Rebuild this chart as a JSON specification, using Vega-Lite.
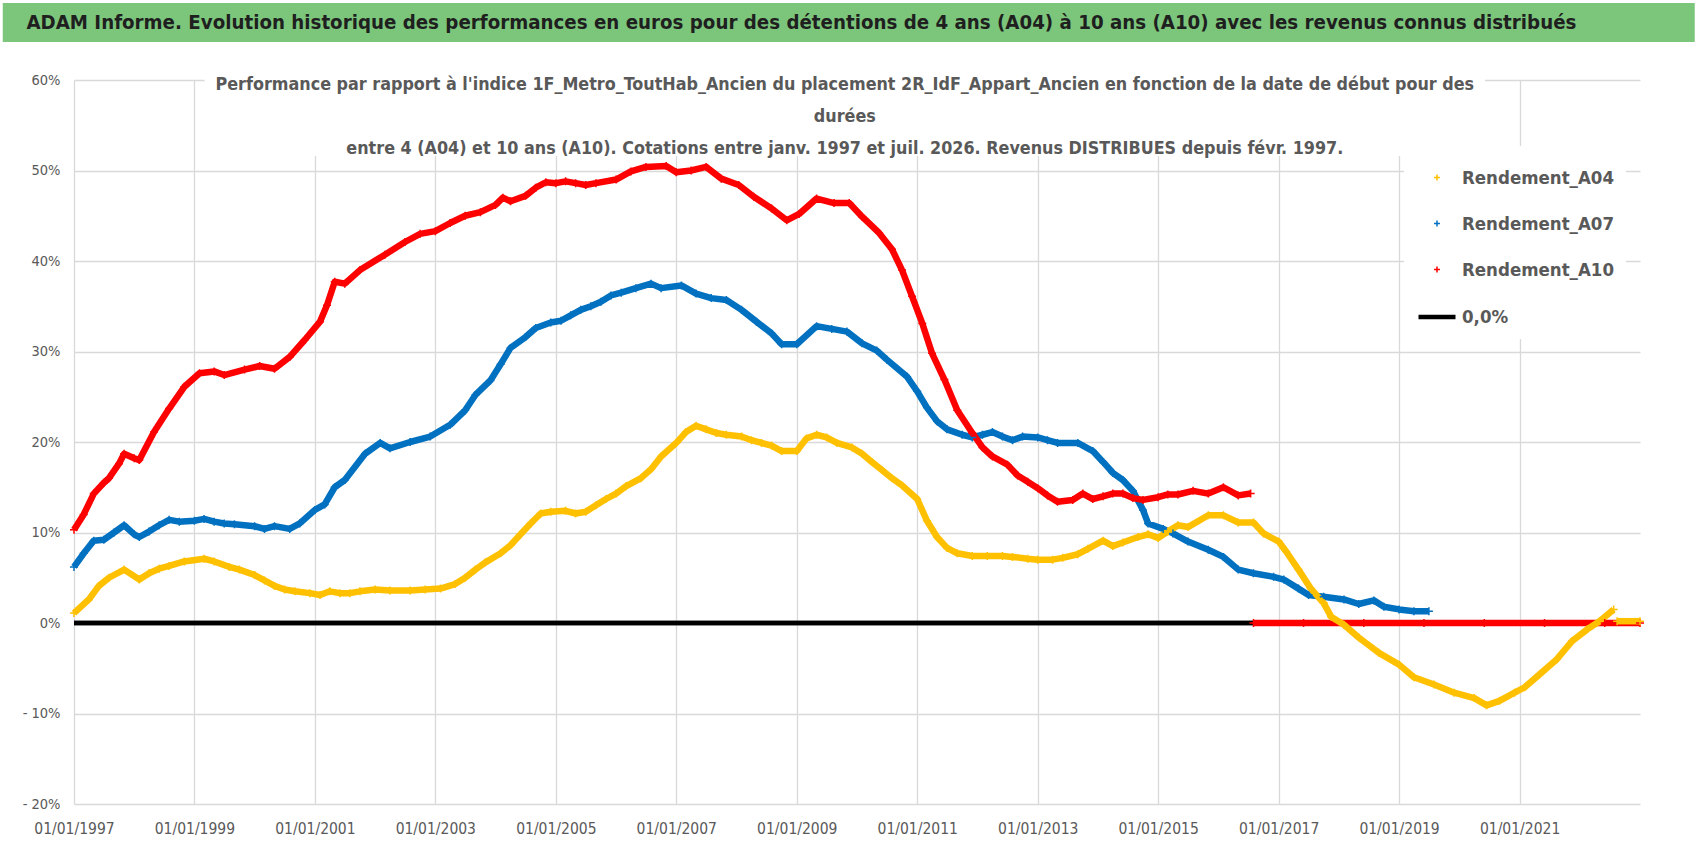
{
  "$schema": "https://vega.github.io/schema/vega-lite/v6.json",
  "width": 1566,
  "height": 724,
  "autosize": {"type": "none"},
  "padding": {"left": 74, "top": 80, "right": 58, "bottom": 52},
  "background": "white",
  "datasets": {
    "series": [
      {"d": "1997-01-01", "s": "0,0%", "g": "z", "v": 0},
      {"d": "2016-08-01", "s": "0,0%", "g": "z", "v": 0},

      {"d": "1997-01-01", "s": "Rendement_A07", "g": "a", "v": 6.2},
      {"d": "1997-03-01", "s": "Rendement_A07", "g": "a", "v": 7.7},
      {"d": "1997-05-01", "s": "Rendement_A07", "g": "a", "v": 9.1},
      {"d": "1997-07-01", "s": "Rendement_A07", "g": "a", "v": 9.2},
      {"d": "1997-09-01", "s": "Rendement_A07", "g": "a", "v": 10.0},
      {"d": "1997-11-01", "s": "Rendement_A07", "g": "a", "v": 10.8},
      {"d": "1998-01-01", "s": "Rendement_A07", "g": "a", "v": 9.8},
      {"d": "1998-02-01", "s": "Rendement_A07", "g": "a", "v": 9.5},
      {"d": "1998-04-01", "s": "Rendement_A07", "g": "a", "v": 10.1},
      {"d": "1998-06-01", "s": "Rendement_A07", "g": "a", "v": 10.8},
      {"d": "1998-08-01", "s": "Rendement_A07", "g": "a", "v": 11.4},
      {"d": "1998-10-01", "s": "Rendement_A07", "g": "a", "v": 11.2},
      {"d": "1999-01-01", "s": "Rendement_A07", "g": "a", "v": 11.3},
      {"d": "1999-03-01", "s": "Rendement_A07", "g": "a", "v": 11.5},
      {"d": "1999-05-01", "s": "Rendement_A07", "g": "a", "v": 11.2},
      {"d": "1999-07-01", "s": "Rendement_A07", "g": "a", "v": 11.0},
      {"d": "1999-09-01", "s": "Rendement_A07", "g": "a", "v": 10.9},
      {"d": "2000-01-01", "s": "Rendement_A07", "g": "a", "v": 10.7},
      {"d": "2000-03-01", "s": "Rendement_A07", "g": "a", "v": 10.4},
      {"d": "2000-05-01", "s": "Rendement_A07", "g": "a", "v": 10.7},
      {"d": "2000-08-01", "s": "Rendement_A07", "g": "a", "v": 10.4},
      {"d": "2000-10-01", "s": "Rendement_A07", "g": "a", "v": 11.0},
      {"d": "2001-01-01", "s": "Rendement_A07", "g": "a", "v": 12.5},
      {"d": "2001-03-01", "s": "Rendement_A07", "g": "a", "v": 13.1},
      {"d": "2001-05-01", "s": "Rendement_A07", "g": "a", "v": 15.0},
      {"d": "2001-07-01", "s": "Rendement_A07", "g": "a", "v": 15.8},
      {"d": "2001-11-01", "s": "Rendement_A07", "g": "a", "v": 18.7},
      {"d": "2002-02-01", "s": "Rendement_A07", "g": "a", "v": 19.9},
      {"d": "2002-04-01", "s": "Rendement_A07", "g": "a", "v": 19.3},
      {"d": "2002-08-01", "s": "Rendement_A07", "g": "a", "v": 20.0},
      {"d": "2002-12-01", "s": "Rendement_A07", "g": "a", "v": 20.6},
      {"d": "2003-04-01", "s": "Rendement_A07", "g": "a", "v": 21.9},
      {"d": "2003-07-01", "s": "Rendement_A07", "g": "a", "v": 23.5},
      {"d": "2003-09-01", "s": "Rendement_A07", "g": "a", "v": 25.2},
      {"d": "2003-12-01", "s": "Rendement_A07", "g": "a", "v": 26.8},
      {"d": "2004-02-01", "s": "Rendement_A07", "g": "a", "v": 28.6},
      {"d": "2004-04-01", "s": "Rendement_A07", "g": "a", "v": 30.4},
      {"d": "2004-07-01", "s": "Rendement_A07", "g": "a", "v": 31.6},
      {"d": "2004-09-01", "s": "Rendement_A07", "g": "a", "v": 32.6},
      {"d": "2004-12-01", "s": "Rendement_A07", "g": "a", "v": 33.2},
      {"d": "2005-02-01", "s": "Rendement_A07", "g": "a", "v": 33.4},
      {"d": "2005-04-01", "s": "Rendement_A07", "g": "a", "v": 34.0},
      {"d": "2005-06-01", "s": "Rendement_A07", "g": "a", "v": 34.6},
      {"d": "2005-08-01", "s": "Rendement_A07", "g": "a", "v": 35.0},
      {"d": "2005-10-01", "s": "Rendement_A07", "g": "a", "v": 35.5},
      {"d": "2005-12-01", "s": "Rendement_A07", "g": "a", "v": 36.2},
      {"d": "2006-02-01", "s": "Rendement_A07", "g": "a", "v": 36.5},
      {"d": "2006-05-01", "s": "Rendement_A07", "g": "a", "v": 37.0},
      {"d": "2006-08-01", "s": "Rendement_A07", "g": "a", "v": 37.5},
      {"d": "2006-10-01", "s": "Rendement_A07", "g": "a", "v": 37.0},
      {"d": "2007-02-01", "s": "Rendement_A07", "g": "a", "v": 37.3},
      {"d": "2007-05-01", "s": "Rendement_A07", "g": "a", "v": 36.4},
      {"d": "2007-08-01", "s": "Rendement_A07", "g": "a", "v": 35.9},
      {"d": "2007-11-01", "s": "Rendement_A07", "g": "a", "v": 35.7},
      {"d": "2008-02-01", "s": "Rendement_A07", "g": "a", "v": 34.6},
      {"d": "2008-05-01", "s": "Rendement_A07", "g": "a", "v": 33.3},
      {"d": "2008-08-01", "s": "Rendement_A07", "g": "a", "v": 32.0},
      {"d": "2008-10-01", "s": "Rendement_A07", "g": "a", "v": 30.8},
      {"d": "2009-01-01", "s": "Rendement_A07", "g": "a", "v": 30.8},
      {"d": "2009-05-01", "s": "Rendement_A07", "g": "a", "v": 32.8},
      {"d": "2009-08-01", "s": "Rendement_A07", "g": "a", "v": 32.5},
      {"d": "2009-11-01", "s": "Rendement_A07", "g": "a", "v": 32.2},
      {"d": "2010-02-01", "s": "Rendement_A07", "g": "a", "v": 30.9},
      {"d": "2010-05-01", "s": "Rendement_A07", "g": "a", "v": 30.1},
      {"d": "2010-07-01", "s": "Rendement_A07", "g": "a", "v": 29.1},
      {"d": "2010-11-01", "s": "Rendement_A07", "g": "a", "v": 27.2},
      {"d": "2011-01-01", "s": "Rendement_A07", "g": "a", "v": 25.6},
      {"d": "2011-03-01", "s": "Rendement_A07", "g": "a", "v": 23.8},
      {"d": "2011-05-01", "s": "Rendement_A07", "g": "a", "v": 22.3},
      {"d": "2011-07-01", "s": "Rendement_A07", "g": "a", "v": 21.4},
      {"d": "2011-10-01", "s": "Rendement_A07", "g": "a", "v": 20.8},
      {"d": "2011-12-01", "s": "Rendement_A07", "g": "a", "v": 20.5},
      {"d": "2012-02-01", "s": "Rendement_A07", "g": "a", "v": 20.8},
      {"d": "2012-04-01", "s": "Rendement_A07", "g": "a", "v": 21.1},
      {"d": "2012-06-01", "s": "Rendement_A07", "g": "a", "v": 20.6},
      {"d": "2012-08-01", "s": "Rendement_A07", "g": "a", "v": 20.2},
      {"d": "2012-10-01", "s": "Rendement_A07", "g": "a", "v": 20.6},
      {"d": "2013-01-01", "s": "Rendement_A07", "g": "a", "v": 20.5},
      {"d": "2013-03-01", "s": "Rendement_A07", "g": "a", "v": 20.2},
      {"d": "2013-05-01", "s": "Rendement_A07", "g": "a", "v": 19.9},
      {"d": "2013-09-01", "s": "Rendement_A07", "g": "a", "v": 19.9},
      {"d": "2013-12-01", "s": "Rendement_A07", "g": "a", "v": 19.0},
      {"d": "2014-02-01", "s": "Rendement_A07", "g": "a", "v": 17.8},
      {"d": "2014-04-01", "s": "Rendement_A07", "g": "a", "v": 16.6},
      {"d": "2014-06-01", "s": "Rendement_A07", "g": "a", "v": 15.8},
      {"d": "2014-08-01", "s": "Rendement_A07", "g": "a", "v": 14.6},
      {"d": "2014-10-01", "s": "Rendement_A07", "g": "a", "v": 12.5},
      {"d": "2014-11-01", "s": "Rendement_A07", "g": "a", "v": 11.0},
      {"d": "2015-02-01", "s": "Rendement_A07", "g": "a", "v": 10.4},
      {"d": "2015-04-01", "s": "Rendement_A07", "g": "a", "v": 9.9},
      {"d": "2015-07-01", "s": "Rendement_A07", "g": "a", "v": 9.0},
      {"d": "2015-11-01", "s": "Rendement_A07", "g": "a", "v": 8.1},
      {"d": "2016-02-01", "s": "Rendement_A07", "g": "a", "v": 7.3},
      {"d": "2016-05-01", "s": "Rendement_A07", "g": "a", "v": 5.9},
      {"d": "2016-08-01", "s": "Rendement_A07", "g": "a", "v": 5.5},
      {"d": "2016-12-01", "s": "Rendement_A07", "g": "a", "v": 5.1},
      {"d": "2017-02-01", "s": "Rendement_A07", "g": "a", "v": 4.8},
      {"d": "2017-05-01", "s": "Rendement_A07", "g": "a", "v": 3.8},
      {"d": "2017-07-01", "s": "Rendement_A07", "g": "a", "v": 3.1},
      {"d": "2017-10-01", "s": "Rendement_A07", "g": "a", "v": 2.9},
      {"d": "2018-02-01", "s": "Rendement_A07", "g": "a", "v": 2.6},
      {"d": "2018-05-01", "s": "Rendement_A07", "g": "a", "v": 2.1},
      {"d": "2018-08-01", "s": "Rendement_A07", "g": "a", "v": 2.5},
      {"d": "2018-10-01", "s": "Rendement_A07", "g": "a", "v": 1.8},
      {"d": "2019-01-01", "s": "Rendement_A07", "g": "a", "v": 1.5},
      {"d": "2019-04-01", "s": "Rendement_A07", "g": "a", "v": 1.3},
      {"d": "2019-07-01", "s": "Rendement_A07", "g": "a", "v": 1.3},

      {"d": "1997-01-01", "s": "Rendement_A10", "g": "a", "v": 10.3},
      {"d": "1997-03-01", "s": "Rendement_A10", "g": "a", "v": 12.0},
      {"d": "1997-05-01", "s": "Rendement_A10", "g": "a", "v": 14.3},
      {"d": "1997-07-01", "s": "Rendement_A10", "g": "a", "v": 15.5},
      {"d": "1997-08-01", "s": "Rendement_A10", "g": "a", "v": 16.0},
      {"d": "1997-10-01", "s": "Rendement_A10", "g": "a", "v": 17.6},
      {"d": "1997-11-01", "s": "Rendement_A10", "g": "a", "v": 18.7},
      {"d": "1998-01-01", "s": "Rendement_A10", "g": "a", "v": 18.2},
      {"d": "1998-02-01", "s": "Rendement_A10", "g": "a", "v": 18.0},
      {"d": "1998-05-01", "s": "Rendement_A10", "g": "a", "v": 21.1},
      {"d": "1998-08-01", "s": "Rendement_A10", "g": "a", "v": 23.7},
      {"d": "1998-11-01", "s": "Rendement_A10", "g": "a", "v": 26.1},
      {"d": "1999-02-01", "s": "Rendement_A10", "g": "a", "v": 27.6},
      {"d": "1999-05-01", "s": "Rendement_A10", "g": "a", "v": 27.8},
      {"d": "1999-07-01", "s": "Rendement_A10", "g": "a", "v": 27.4},
      {"d": "1999-11-01", "s": "Rendement_A10", "g": "a", "v": 28.0},
      {"d": "2000-02-01", "s": "Rendement_A10", "g": "a", "v": 28.4},
      {"d": "2000-05-01", "s": "Rendement_A10", "g": "a", "v": 28.1},
      {"d": "2000-08-01", "s": "Rendement_A10", "g": "a", "v": 29.4},
      {"d": "2000-11-01", "s": "Rendement_A10", "g": "a", "v": 31.3},
      {"d": "2001-02-01", "s": "Rendement_A10", "g": "a", "v": 33.3},
      {"d": "2001-03-15", "s": "Rendement_A10", "g": "a", "v": 35.1},
      {"d": "2001-05-01", "s": "Rendement_A10", "g": "a", "v": 37.7},
      {"d": "2001-07-01", "s": "Rendement_A10", "g": "a", "v": 37.5},
      {"d": "2001-10-01", "s": "Rendement_A10", "g": "a", "v": 39.0},
      {"d": "2002-03-01", "s": "Rendement_A10", "g": "a", "v": 40.7},
      {"d": "2002-07-01", "s": "Rendement_A10", "g": "a", "v": 42.1},
      {"d": "2002-10-01", "s": "Rendement_A10", "g": "a", "v": 43.0},
      {"d": "2003-01-01", "s": "Rendement_A10", "g": "a", "v": 43.3},
      {"d": "2003-04-01", "s": "Rendement_A10", "g": "a", "v": 44.2},
      {"d": "2003-07-01", "s": "Rendement_A10", "g": "a", "v": 45.0},
      {"d": "2003-10-01", "s": "Rendement_A10", "g": "a", "v": 45.4},
      {"d": "2004-01-01", "s": "Rendement_A10", "g": "a", "v": 46.2},
      {"d": "2004-02-15", "s": "Rendement_A10", "g": "a", "v": 47.0},
      {"d": "2004-04-01", "s": "Rendement_A10", "g": "a", "v": 46.6},
      {"d": "2004-07-01", "s": "Rendement_A10", "g": "a", "v": 47.2},
      {"d": "2004-09-01", "s": "Rendement_A10", "g": "a", "v": 48.1},
      {"d": "2004-11-01", "s": "Rendement_A10", "g": "a", "v": 48.7},
      {"d": "2005-01-01", "s": "Rendement_A10", "g": "a", "v": 48.6},
      {"d": "2005-03-01", "s": "Rendement_A10", "g": "a", "v": 48.8},
      {"d": "2005-05-01", "s": "Rendement_A10", "g": "a", "v": 48.6},
      {"d": "2005-07-01", "s": "Rendement_A10", "g": "a", "v": 48.4},
      {"d": "2005-09-01", "s": "Rendement_A10", "g": "a", "v": 48.6},
      {"d": "2006-01-01", "s": "Rendement_A10", "g": "a", "v": 49.0},
      {"d": "2006-04-01", "s": "Rendement_A10", "g": "a", "v": 49.9},
      {"d": "2006-07-01", "s": "Rendement_A10", "g": "a", "v": 50.4},
      {"d": "2006-11-01", "s": "Rendement_A10", "g": "a", "v": 50.5},
      {"d": "2007-01-01", "s": "Rendement_A10", "g": "a", "v": 49.8},
      {"d": "2007-04-01", "s": "Rendement_A10", "g": "a", "v": 50.0},
      {"d": "2007-07-01", "s": "Rendement_A10", "g": "a", "v": 50.4},
      {"d": "2007-10-01", "s": "Rendement_A10", "g": "a", "v": 49.1},
      {"d": "2008-01-15", "s": "Rendement_A10", "g": "a", "v": 48.4},
      {"d": "2008-04-15", "s": "Rendement_A10", "g": "a", "v": 47.1},
      {"d": "2008-08-01", "s": "Rendement_A10", "g": "a", "v": 45.8},
      {"d": "2008-11-01", "s": "Rendement_A10", "g": "a", "v": 44.5},
      {"d": "2009-01-15", "s": "Rendement_A10", "g": "a", "v": 45.2},
      {"d": "2009-05-01", "s": "Rendement_A10", "g": "a", "v": 46.9},
      {"d": "2009-08-15", "s": "Rendement_A10", "g": "a", "v": 46.4},
      {"d": "2009-11-15", "s": "Rendement_A10", "g": "a", "v": 46.4},
      {"d": "2010-02-01", "s": "Rendement_A10", "g": "a", "v": 44.9},
      {"d": "2010-05-15", "s": "Rendement_A10", "g": "a", "v": 43.1},
      {"d": "2010-08-01", "s": "Rendement_A10", "g": "a", "v": 41.3},
      {"d": "2010-10-01", "s": "Rendement_A10", "g": "a", "v": 39.0},
      {"d": "2010-12-01", "s": "Rendement_A10", "g": "a", "v": 36.1},
      {"d": "2011-02-01", "s": "Rendement_A10", "g": "a", "v": 33.1},
      {"d": "2011-04-01", "s": "Rendement_A10", "g": "a", "v": 29.8},
      {"d": "2011-06-15", "s": "Rendement_A10", "g": "a", "v": 26.9},
      {"d": "2011-09-01", "s": "Rendement_A10", "g": "a", "v": 23.5},
      {"d": "2011-12-01", "s": "Rendement_A10", "g": "a", "v": 21.0},
      {"d": "2012-02-01", "s": "Rendement_A10", "g": "a", "v": 19.4},
      {"d": "2012-04-01", "s": "Rendement_A10", "g": "a", "v": 18.4},
      {"d": "2012-07-01", "s": "Rendement_A10", "g": "a", "v": 17.5},
      {"d": "2012-09-01", "s": "Rendement_A10", "g": "a", "v": 16.3},
      {"d": "2012-11-01", "s": "Rendement_A10", "g": "a", "v": 15.6},
      {"d": "2013-01-01", "s": "Rendement_A10", "g": "a", "v": 14.9},
      {"d": "2013-03-01", "s": "Rendement_A10", "g": "a", "v": 14.1},
      {"d": "2013-05-01", "s": "Rendement_A10", "g": "a", "v": 13.4},
      {"d": "2013-08-01", "s": "Rendement_A10", "g": "a", "v": 13.6},
      {"d": "2013-10-01", "s": "Rendement_A10", "g": "a", "v": 14.3},
      {"d": "2013-12-01", "s": "Rendement_A10", "g": "a", "v": 13.7},
      {"d": "2014-02-01", "s": "Rendement_A10", "g": "a", "v": 14.0},
      {"d": "2014-04-01", "s": "Rendement_A10", "g": "a", "v": 14.3},
      {"d": "2014-06-01", "s": "Rendement_A10", "g": "a", "v": 14.3},
      {"d": "2014-08-01", "s": "Rendement_A10", "g": "a", "v": 13.8},
      {"d": "2014-10-01", "s": "Rendement_A10", "g": "a", "v": 13.6},
      {"d": "2015-01-01", "s": "Rendement_A10", "g": "a", "v": 13.9},
      {"d": "2015-03-01", "s": "Rendement_A10", "g": "a", "v": 14.2},
      {"d": "2015-05-01", "s": "Rendement_A10", "g": "a", "v": 14.2},
      {"d": "2015-08-01", "s": "Rendement_A10", "g": "a", "v": 14.6},
      {"d": "2015-11-01", "s": "Rendement_A10", "g": "a", "v": 14.3},
      {"d": "2016-02-01", "s": "Rendement_A10", "g": "a", "v": 15.0},
      {"d": "2016-05-01", "s": "Rendement_A10", "g": "a", "v": 14.1},
      {"d": "2016-07-15", "s": "Rendement_A10", "g": "a", "v": 14.3},
      {"d": "2016-08-01", "s": "Rendement_A10", "g": "z", "v": 0},
      {"d": "2017-06-01", "s": "Rendement_A10", "g": "z", "v": 0},
      {"d": "2018-06-01", "s": "Rendement_A10", "g": "z", "v": 0},
      {"d": "2019-06-01", "s": "Rendement_A10", "g": "z", "v": 0},
      {"d": "2020-06-01", "s": "Rendement_A10", "g": "z", "v": 0},
      {"d": "2021-06-01", "s": "Rendement_A10", "g": "z", "v": 0},
      {"d": "2022-06-01", "s": "Rendement_A10", "g": "z", "v": 0},
      {"d": "2023-01-01", "s": "Rendement_A10", "g": "z", "v": 0},

      {"d": "1997-01-01", "s": "Rendement_A04", "g": "a", "v": 1.1},
      {"d": "1997-04-01", "s": "Rendement_A04", "g": "a", "v": 2.6},
      {"d": "1997-06-01", "s": "Rendement_A04", "g": "a", "v": 4.1},
      {"d": "1997-08-01", "s": "Rendement_A04", "g": "a", "v": 5.0},
      {"d": "1997-11-01", "s": "Rendement_A04", "g": "a", "v": 5.9},
      {"d": "1998-02-01", "s": "Rendement_A04", "g": "a", "v": 4.8},
      {"d": "1998-04-01", "s": "Rendement_A04", "g": "a", "v": 5.5},
      {"d": "1998-06-01", "s": "Rendement_A04", "g": "a", "v": 6.0},
      {"d": "1998-08-01", "s": "Rendement_A04", "g": "a", "v": 6.3},
      {"d": "1998-11-01", "s": "Rendement_A04", "g": "a", "v": 6.8},
      {"d": "1999-03-01", "s": "Rendement_A04", "g": "a", "v": 7.1},
      {"d": "1999-05-01", "s": "Rendement_A04", "g": "a", "v": 6.8},
      {"d": "1999-08-01", "s": "Rendement_A04", "g": "a", "v": 6.2},
      {"d": "1999-10-01", "s": "Rendement_A04", "g": "a", "v": 5.9},
      {"d": "2000-01-01", "s": "Rendement_A04", "g": "a", "v": 5.3},
      {"d": "2000-03-01", "s": "Rendement_A04", "g": "a", "v": 4.7},
      {"d": "2000-05-01", "s": "Rendement_A04", "g": "a", "v": 4.1},
      {"d": "2000-07-01", "s": "Rendement_A04", "g": "a", "v": 3.7},
      {"d": "2000-09-01", "s": "Rendement_A04", "g": "a", "v": 3.5},
      {"d": "2000-12-01", "s": "Rendement_A04", "g": "a", "v": 3.3},
      {"d": "2001-02-01", "s": "Rendement_A04", "g": "a", "v": 3.1},
      {"d": "2001-04-01", "s": "Rendement_A04", "g": "a", "v": 3.5},
      {"d": "2001-06-01", "s": "Rendement_A04", "g": "a", "v": 3.3},
      {"d": "2001-08-01", "s": "Rendement_A04", "g": "a", "v": 3.3},
      {"d": "2001-10-01", "s": "Rendement_A04", "g": "a", "v": 3.5},
      {"d": "2002-01-01", "s": "Rendement_A04", "g": "a", "v": 3.7},
      {"d": "2002-04-01", "s": "Rendement_A04", "g": "a", "v": 3.6},
      {"d": "2002-08-01", "s": "Rendement_A04", "g": "a", "v": 3.6},
      {"d": "2002-11-01", "s": "Rendement_A04", "g": "a", "v": 3.7},
      {"d": "2003-02-01", "s": "Rendement_A04", "g": "a", "v": 3.8},
      {"d": "2003-05-01", "s": "Rendement_A04", "g": "a", "v": 4.3},
      {"d": "2003-07-01", "s": "Rendement_A04", "g": "a", "v": 5.0},
      {"d": "2003-09-01", "s": "Rendement_A04", "g": "a", "v": 5.9},
      {"d": "2003-11-01", "s": "Rendement_A04", "g": "a", "v": 6.7},
      {"d": "2004-02-01", "s": "Rendement_A04", "g": "a", "v": 7.7},
      {"d": "2004-04-01", "s": "Rendement_A04", "g": "a", "v": 8.6},
      {"d": "2004-06-01", "s": "Rendement_A04", "g": "a", "v": 9.8},
      {"d": "2004-08-01", "s": "Rendement_A04", "g": "a", "v": 11.0},
      {"d": "2004-10-01", "s": "Rendement_A04", "g": "a", "v": 12.1},
      {"d": "2004-12-01", "s": "Rendement_A04", "g": "a", "v": 12.3},
      {"d": "2005-03-01", "s": "Rendement_A04", "g": "a", "v": 12.4},
      {"d": "2005-05-01", "s": "Rendement_A04", "g": "a", "v": 12.1},
      {"d": "2005-07-01", "s": "Rendement_A04", "g": "a", "v": 12.3},
      {"d": "2005-09-01", "s": "Rendement_A04", "g": "a", "v": 13.0},
      {"d": "2005-11-01", "s": "Rendement_A04", "g": "a", "v": 13.7},
      {"d": "2006-01-01", "s": "Rendement_A04", "g": "a", "v": 14.3},
      {"d": "2006-03-01", "s": "Rendement_A04", "g": "a", "v": 15.1},
      {"d": "2006-06-01", "s": "Rendement_A04", "g": "a", "v": 16.0},
      {"d": "2006-08-01", "s": "Rendement_A04", "g": "a", "v": 17.0},
      {"d": "2006-10-01", "s": "Rendement_A04", "g": "a", "v": 18.4},
      {"d": "2007-01-01", "s": "Rendement_A04", "g": "a", "v": 19.9},
      {"d": "2007-03-01", "s": "Rendement_A04", "g": "a", "v": 21.1},
      {"d": "2007-05-01", "s": "Rendement_A04", "g": "a", "v": 21.8},
      {"d": "2007-07-01", "s": "Rendement_A04", "g": "a", "v": 21.4},
      {"d": "2007-09-01", "s": "Rendement_A04", "g": "a", "v": 21.0},
      {"d": "2007-11-01", "s": "Rendement_A04", "g": "a", "v": 20.8},
      {"d": "2008-02-01", "s": "Rendement_A04", "g": "a", "v": 20.6},
      {"d": "2008-04-01", "s": "Rendement_A04", "g": "a", "v": 20.2},
      {"d": "2008-06-01", "s": "Rendement_A04", "g": "a", "v": 19.9},
      {"d": "2008-08-01", "s": "Rendement_A04", "g": "a", "v": 19.6},
      {"d": "2008-10-01", "s": "Rendement_A04", "g": "a", "v": 19.0},
      {"d": "2009-01-01", "s": "Rendement_A04", "g": "a", "v": 19.0},
      {"d": "2009-03-01", "s": "Rendement_A04", "g": "a", "v": 20.4},
      {"d": "2009-05-01", "s": "Rendement_A04", "g": "a", "v": 20.8},
      {"d": "2009-07-01", "s": "Rendement_A04", "g": "a", "v": 20.5},
      {"d": "2009-09-01", "s": "Rendement_A04", "g": "a", "v": 19.9},
      {"d": "2009-12-01", "s": "Rendement_A04", "g": "a", "v": 19.4},
      {"d": "2010-02-01", "s": "Rendement_A04", "g": "a", "v": 18.7},
      {"d": "2010-04-01", "s": "Rendement_A04", "g": "a", "v": 17.8},
      {"d": "2010-06-01", "s": "Rendement_A04", "g": "a", "v": 16.9},
      {"d": "2010-08-01", "s": "Rendement_A04", "g": "a", "v": 16.0},
      {"d": "2010-10-01", "s": "Rendement_A04", "g": "a", "v": 15.2},
      {"d": "2011-01-01", "s": "Rendement_A04", "g": "a", "v": 13.7},
      {"d": "2011-03-01", "s": "Rendement_A04", "g": "a", "v": 11.3},
      {"d": "2011-05-01", "s": "Rendement_A04", "g": "a", "v": 9.5},
      {"d": "2011-07-01", "s": "Rendement_A04", "g": "a", "v": 8.3},
      {"d": "2011-09-01", "s": "Rendement_A04", "g": "a", "v": 7.7},
      {"d": "2011-12-01", "s": "Rendement_A04", "g": "a", "v": 7.4},
      {"d": "2012-03-01", "s": "Rendement_A04", "g": "a", "v": 7.4},
      {"d": "2012-06-01", "s": "Rendement_A04", "g": "a", "v": 7.4},
      {"d": "2012-08-01", "s": "Rendement_A04", "g": "a", "v": 7.3},
      {"d": "2012-11-01", "s": "Rendement_A04", "g": "a", "v": 7.1},
      {"d": "2013-01-01", "s": "Rendement_A04", "g": "a", "v": 7.0},
      {"d": "2013-04-01", "s": "Rendement_A04", "g": "a", "v": 7.0},
      {"d": "2013-06-01", "s": "Rendement_A04", "g": "a", "v": 7.2},
      {"d": "2013-09-01", "s": "Rendement_A04", "g": "a", "v": 7.6},
      {"d": "2013-11-01", "s": "Rendement_A04", "g": "a", "v": 8.2},
      {"d": "2014-02-01", "s": "Rendement_A04", "g": "a", "v": 9.1},
      {"d": "2014-04-01", "s": "Rendement_A04", "g": "a", "v": 8.5},
      {"d": "2014-06-01", "s": "Rendement_A04", "g": "a", "v": 8.9},
      {"d": "2014-09-01", "s": "Rendement_A04", "g": "a", "v": 9.5},
      {"d": "2014-11-01", "s": "Rendement_A04", "g": "a", "v": 9.8},
      {"d": "2015-01-01", "s": "Rendement_A04", "g": "a", "v": 9.4},
      {"d": "2015-03-01", "s": "Rendement_A04", "g": "a", "v": 10.1},
      {"d": "2015-05-01", "s": "Rendement_A04", "g": "a", "v": 10.8},
      {"d": "2015-07-01", "s": "Rendement_A04", "g": "a", "v": 10.6},
      {"d": "2015-11-01", "s": "Rendement_A04", "g": "a", "v": 11.9},
      {"d": "2016-02-01", "s": "Rendement_A04", "g": "a", "v": 11.9},
      {"d": "2016-05-01", "s": "Rendement_A04", "g": "a", "v": 11.1},
      {"d": "2016-08-01", "s": "Rendement_A04", "g": "a", "v": 11.1},
      {"d": "2016-10-01", "s": "Rendement_A04", "g": "a", "v": 9.9},
      {"d": "2017-01-01", "s": "Rendement_A04", "g": "a", "v": 9.0},
      {"d": "2017-02-15", "s": "Rendement_A04", "g": "a", "v": 7.9},
      {"d": "2017-05-01", "s": "Rendement_A04", "g": "a", "v": 5.9},
      {"d": "2017-07-15", "s": "Rendement_A04", "g": "a", "v": 3.8},
      {"d": "2017-10-01", "s": "Rendement_A04", "g": "a", "v": 2.2},
      {"d": "2017-11-15", "s": "Rendement_A04", "g": "a", "v": 0.7},
      {"d": "2018-02-01", "s": "Rendement_A04", "g": "a", "v": -0.2},
      {"d": "2018-05-01", "s": "Rendement_A04", "g": "a", "v": -1.6},
      {"d": "2018-09-01", "s": "Rendement_A04", "g": "a", "v": -3.3},
      {"d": "2019-01-01", "s": "Rendement_A04", "g": "a", "v": -4.6},
      {"d": "2019-04-01", "s": "Rendement_A04", "g": "a", "v": -6.0},
      {"d": "2019-08-01", "s": "Rendement_A04", "g": "a", "v": -6.8},
      {"d": "2019-12-01", "s": "Rendement_A04", "g": "a", "v": -7.7},
      {"d": "2020-04-01", "s": "Rendement_A04", "g": "a", "v": -8.3},
      {"d": "2020-06-15", "s": "Rendement_A04", "g": "a", "v": -9.1},
      {"d": "2020-09-01", "s": "Rendement_A04", "g": "a", "v": -8.6},
      {"d": "2020-12-01", "s": "Rendement_A04", "g": "a", "v": -7.7},
      {"d": "2021-02-01", "s": "Rendement_A04", "g": "a", "v": -7.1},
      {"d": "2021-05-01", "s": "Rendement_A04", "g": "a", "v": -5.7},
      {"d": "2021-08-15", "s": "Rendement_A04", "g": "a", "v": -4.0},
      {"d": "2021-11-15", "s": "Rendement_A04", "g": "a", "v": -2.0},
      {"d": "2022-02-15", "s": "Rendement_A04", "g": "a", "v": -0.7},
      {"d": "2022-05-01", "s": "Rendement_A04", "g": "a", "v": 0.2},
      {"d": "2022-07-25", "s": "Rendement_A04", "g": "a", "v": 1.5},
      {"d": "2022-08-15", "s": "Rendement_A04", "g": "z", "v": 0.2},
      {"d": "2023-01-01", "s": "Rendement_A04", "g": "z", "v": 0.2}
    ],
    "banner": [
      {"t": "ADAM Informe. Evolution historique des performances en euros pour des détentions de 4 ans (A04) à 10 ans (A10) avec les revenus connus distribués"}
    ],
    "subtitle": [
      {"t": "Performance par rapport à l'indice 1F_Metro_ToutHab_Ancien  du placement 2R_IdF_Appart_Ancien en fonction de la date de début pour des\ndurées\nentre 4 (A04) et 10 ans (A10).  Cotations entre janv. 1997 et juil. 2026. Revenus DISTRIBUES depuis févr. 1997."}
    ]
  },
  "layer": [
    {
      "data": {"name": "series"},
      "transform": [{"filter": "datum.s === '0,0%'"}],
      "mark": {"type": "line", "color": "#000000", "strokeWidth": 4.5, "strokeCap": "butt"},
      "encoding": {
        "x": {
          "field": "d",
          "type": "temporal",
          "scale": {
            "type": "utc",
            "domain": [
              {"year": 1997, "month": 1, "date": 1, "utc": true},
              {"year": 2023, "month": 1, "date": 1, "utc": true}
            ]
          },
          "axis": {
            "title": null,
            "grid": true,
            "values": [
              {"year": 1997, "month": 1, "date": 1, "utc": true},
              {"year": 1999, "month": 1, "date": 1, "utc": true},
              {"year": 2001, "month": 1, "date": 1, "utc": true},
              {"year": 2003, "month": 1, "date": 1, "utc": true},
              {"year": 2005, "month": 1, "date": 1, "utc": true},
              {"year": 2007, "month": 1, "date": 1, "utc": true},
              {"year": 2009, "month": 1, "date": 1, "utc": true},
              {"year": 2011, "month": 1, "date": 1, "utc": true},
              {"year": 2013, "month": 1, "date": 1, "utc": true},
              {"year": 2015, "month": 1, "date": 1, "utc": true},
              {"year": 2017, "month": 1, "date": 1, "utc": true},
              {"year": 2019, "month": 1, "date": 1, "utc": true},
              {"year": 2021, "month": 1, "date": 1, "utc": true}
            ],
            "labelExpr": "utcFormat(datum.value, '%d/%m/%Y')",
            "labelBaseline": "middle",
            "labelPadding": 24,
            "labelFontSize": 15.5,
            "labelFlush": false,
            "labelOverlap": false
          }
        },
        "y": {
          "field": "v",
          "type": "quantitative",
          "scale": {"domain": [-20, 60], "nice": false},
          "axis": {
            "title": null,
            "grid": true,
            "values": [-20, -10, 0, 10, 20, 30, 40, 50, 60],
            "labelExpr": "datum.value < 0 ? '- ' + (-datum.value) + '%' : datum.value + '%'",
            "labelPadding": 14,
            "labelFontSize": 14.5
          }
        }
      }
    },
    {
      "data": {"name": "subtitle"},
      "mark": {"type": "rect", "color": "#FFFFFF", "clip": false},
      "encoding": {
        "x": {"datum": {"year": 1999, "month": 3, "date": 4, "utc": true}, "type": "temporal"},
        "x2": {"datum": {"year": 2020, "month": 6, "date": 5, "utc": true}},
        "y": {"datum": 61.2, "type": "quantitative"},
        "y2": {"datum": 51.6}
      }
    },
    {
      "data": {"name": "banner"},
      "mark": {"type": "rect", "color": "#7CC67C", "clip": false},
      "encoding": {
        "x": {"datum": {"year": 1995, "month": 10, "date": 27, "utc": true}, "type": "temporal"},
        "x2": {"datum": {"year": 2023, "month": 11, "date": 29, "utc": true}},
        "y": {"datum": 68.5, "type": "quantitative"},
        "y2": {"datum": 64.2}
      }
    },
    {
      "data": {"name": "banner"},
      "mark": {"type": "text", "align": "center", "baseline": "middle", "fontSize": 20.3, "fontWeight": "bold", "color": "#1F1F1F", "clip": false},
      "encoding": {
        "x": {"datum": {"year": 2009, "month": 1, "date": 29, "utc": true}, "type": "temporal"},
        "y": {"datum": 66.35, "type": "quantitative"},
        "text": {"field": "t", "type": "nominal"}
      }
    },
    {
      "data": {"name": "subtitle"},
      "mark": {"type": "text", "align": "center", "baseline": "middle", "lineBreak": "\n", "lineHeight": 32, "fontSize": 17.8, "fontWeight": "bold", "color": "#595959", "clip": false},
      "encoding": {
        "x": {"datum": {"year": 2009, "month": 10, "date": 19, "utc": true}, "type": "temporal"},
        "y": {"datum": 59.45, "type": "quantitative"},
        "text": {"field": "t", "type": "nominal"}
      }
    },
    {
      "data": {"name": "series"},
      "transform": [{"filter": "datum.s === '0,0%'"}],
      "mark": {"type": "line", "color": "#000000", "strokeWidth": 4.5, "strokeCap": "butt"},
      "encoding": {
        "x": {"field": "d", "type": "temporal"},
        "y": {"field": "v", "type": "quantitative"}
      }
    },
    {
      "data": {"name": "series"},
      "transform": [{"filter": "datum.s !== '0,0%'"}],
      "mark": {"type": "line", "strokeWidth": 6.5, "strokeJoin": "round", "strokeCap": "butt"},
      "encoding": {
        "x": {"field": "d", "type": "temporal"},
        "y": {"field": "v", "type": "quantitative"},
        "stroke": {
          "field": "s",
          "type": "nominal",
          "scale": {
            "domain": ["Rendement_A04", "Rendement_A07", "Rendement_A10"],
            "range": ["#FFC000", "#0070C0", "#FF0000"]
          },
          "legend": null
        },
        "detail": {"field": "g"}
      }
    },
    {
      "data": {"name": "series"},
      "transform": [{"filter": "datum.s !== '0,0%'"}],
      "mark": {"type": "point", "filled": false, "size": 2500, "opacity": 1},
      "encoding": {
        "x": {"field": "d", "type": "temporal"},
        "y": {"field": "v", "type": "quantitative"},
        "color": {
          "field": "s",
          "type": "ordinal",
          "scale": {
            "domain": ["Rendement_A04", "Rendement_A07", "Rendement_A10", "0,0%"],
            "range": ["#FFC000", "#0070C0", "#FF0000", "#000000"]
          },
          "legend": {
            "orient": "none",
            "legendX": 1330,
            "legendY": 66,
            "title": null,
            "fillColor": "white",
            "padding": 12,
            "symbolSize": 1369,
            "labelFontSize": 18.5,
            "labelFontWeight": "bold",
            "labelColor": "#595959",
            "labelLimit": 400,
            "labelOffset": 4,
            "rowPadding": 17
          }
        },
        "shape": {
          "field": "s",
          "type": "ordinal",
          "scale": {
            "domain": ["Rendement_A04", "Rendement_A07", "Rendement_A10", "0,0%"],
            "range": ["M-0.16,0H0.16M0,-0.16V0.16", "M-0.16,0H0.16M0,-0.16V0.16", "M-0.16,0H0.16M0,-0.16V0.16", "stroke"]
          }
        },
        "strokeWidth": {
          "field": "s",
          "type": "ordinal",
          "scale": {
            "type": "ordinal",
            "domain": ["Rendement_A04", "Rendement_A07", "Rendement_A10", "0,0%"],
            "range": [1.5, 1.5, 1.5, 4.5]
          }
        }
      }
    }
  ],
  "config": {
    "font": "DejaVu Sans Condensed, DejaVu Sans, Liberation Sans, sans-serif",
    "view": {"stroke": null},
    "axis": {
      "domain": false,
      "ticks": false,
      "grid": true,
      "gridColor": "#D9D9D9",
      "gridWidth": 1.3,
      "labelColor": "#595959",
      "labelFont": "DejaVu Sans Condensed, DejaVu Sans, Liberation Sans, sans-serif"
    },
    "legend": {
      "labelFont": "DejaVu Sans Condensed, DejaVu Sans, Liberation Sans, sans-serif"
    },
    "text": {
      "font": "DejaVu Sans Condensed, DejaVu Sans, Liberation Sans, sans-serif"
    }
  }
}
